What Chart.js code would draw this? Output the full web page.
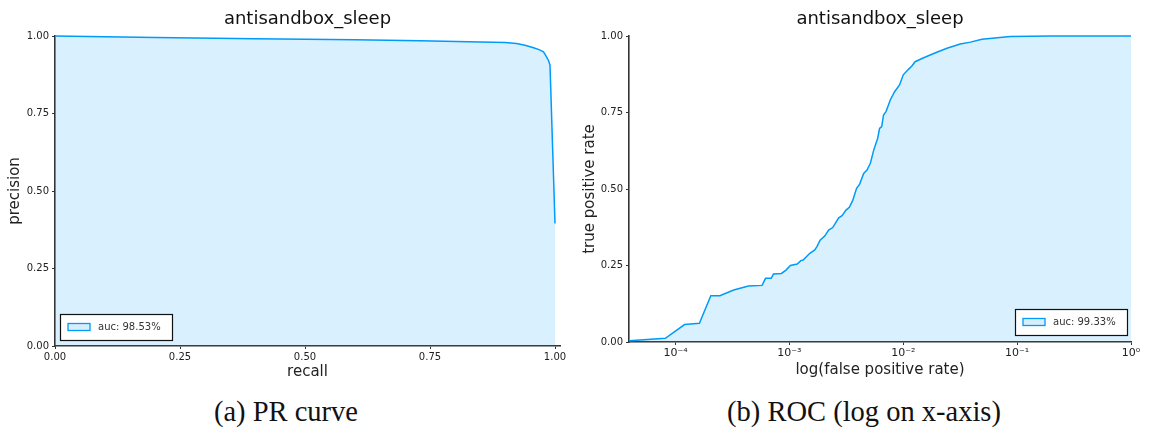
<!DOCTYPE html>
<html>
<head>
<meta charset="utf-8">
<script src="https://cdn.jsdelivr.net/npm/chart.js@4.4.0/dist/chart.umd.min.js"></script>
<style>
  body { margin: 0; background: #fff; width: 1149px; height: 434px; position: relative; overflow: hidden; }
  .panel { position: absolute; top: 0; height: 390px; }
  #pr-wrap { left: 0; width: 575px; }
  #roc-wrap { left: 575px; width: 574px; }
  .caption {
    position: absolute; top: 395px; font-family: "Liberation Serif", serif; font-size: 28.5px;
    color: #111; white-space: nowrap; transform: translateX(-50%); line-height: 34px;
  }
</style>
</head>
<body>
<div class="panel" id="pr-wrap"><canvas id="pr-chart"></canvas></div>
<div class="panel" id="roc-wrap"><canvas id="roc-chart"></canvas></div>
<div class="caption" style="left:286px">(a) PR curve</div>
<div class="caption" style="left:864px">(b) ROC (log on x-axis)</div>

<script>
// PR curve (recall -> precision)
const prRecall = [0, 0.2, 0.4, 0.6, 0.73, 0.85, 0.9, 0.923, 0.94, 0.957, 0.968, 0.977, 0.983, 0.987, 0.99, 1.0];
const prPrecision = [1.0, 0.995, 0.991, 0.988, 0.985, 0.981, 0.979, 0.976, 0.970, 0.962, 0.956, 0.949, 0.933, 0.921, 0.906, 0.395];
const prTicks = [0, 0.25, 0.5, 0.75, 1.0];
const prTickLabels = ["0.00", "0.25", "0.50", "0.75", "1.00"];

// ROC curve (false positive rate -> true positive rate)
const rocFpr = [
  3.9e-5, 8.13e-5, 1.20e-4, 1.62e-4, 2.04e-4, 2.45e-4, 3.24e-4, 4.37e-4, 5.75e-4, 6.17e-4,
  6.92e-4, 7.24e-4, 8.51e-4, 9.33e-4, 1.02e-3, 1.17e-3, 1.26e-3, 1.32e-3, 1.51e-3, 1.66e-3,
  1.74e-3, 1.86e-3, 2.04e-3, 2.21e-3, 2.40e-3, 2.71e-3, 2.90e-3, 3.14e-3, 3.36e-3, 3.59e-3,
  3.89e-3, 4.14e-3, 4.49e-3, 4.80e-3, 5.14e-3, 5.50e-3, 5.96e-3, 6.19e-3, 6.46e-3, 6.71e-3,
  7.05e-3, 7.69e-3, 8.39e-3, 9.27e-3, 1.00e-2, 1.11e-2, 1.19e-2, 1.27e-2, 1.51e-2, 1.97e-2,
  2.42e-2, 3.16e-2, 3.89e-2, 4.90e-2, 8.71e-2, 0.200, 1.0
];
const rocTpr = [
  0.004, 0.012, 0.057, 0.061, 0.151, 0.151, 0.170, 0.183, 0.185, 0.208,
  0.208, 0.222, 0.224, 0.235, 0.250, 0.255, 0.266, 0.268, 0.290, 0.300,
  0.311, 0.333, 0.346, 0.366, 0.374, 0.406, 0.413, 0.431, 0.440, 0.462,
  0.502, 0.516, 0.551, 0.562, 0.584, 0.627, 0.666, 0.698, 0.704, 0.742,
  0.753, 0.791, 0.818, 0.840, 0.873, 0.891, 0.902, 0.916, 0.929, 0.947,
  0.960, 0.974, 0.980, 0.989, 0.998, 1.000, 1.000
];
const rocTicks = [1e-4, 1e-3, 1e-2, 1e-1, 1];
const rocTickLabels = ["10\u207B\u2074", "10\u207B\u00B3", "10\u207B\u00B2", "10\u207B\u00B9", "10\u2070"];
const tprTicks = [0, 0.25, 0.5, 0.75, 1.0];
const tprTickLabels = ["0.00", "0.25", "0.50", "0.75", "1.00"];

const chartTitle = "antisandbox_sleep";
const prLegend = "auc: 98.53%";
const rocLegend = "auc: 99.33%";

const lineBlue = "#009AFA";
const fillBlue = "rgba(0, 154, 250, 0.15)";
const axisColor = "#333";

Chart.defaults.font.family = "'DejaVu Sans', sans-serif";
Chart.defaults.color = "#222";

// title over the plot area + boxed legend inside it
const panelDecor = {
  id: "panelDecor",
  afterDraw(chart, args, opts) {
    const { ctx, chartArea } = chart;
    ctx.save();
    ctx.font = "18px 'DejaVu Sans'";
    ctx.fillStyle = "#111";
    ctx.textAlign = "center";
    ctx.textBaseline = "middle";
    ctx.fillText(opts.title, (chartArea.left + chartArea.right) / 2, 19);

    const ds = chart.data.datasets[0];
    const bw = 112, bh = 26;
    const bx = opts.corner === "left" ? chartArea.left + 5 : chartArea.right - 116;
    const by = opts.corner === "left" ? chartArea.bottom - 32 : chartArea.bottom - 33;
    ctx.fillStyle = "#fff";
    ctx.fillRect(bx, by, bw, bh);
    ctx.strokeStyle = "#111";
    ctx.lineWidth = 1.2;
    ctx.strokeRect(bx + 0.5, by + 0.5, bw, bh);
    ctx.fillStyle = "#d9eefd";
    ctx.fillRect(bx + 8, by + 9.5, 22, 7);
    ctx.strokeStyle = ds.borderColor;
    ctx.lineWidth = 1.3;
    ctx.strokeRect(bx + 8, by + 9.5, 22, 7);
    ctx.fillStyle = "#333";
    ctx.font = "10px 'DejaVu Sans'";
    ctx.textAlign = "left";
    ctx.fillText(ds.label, bx + 38, by + 13.5);
    ctx.restore();
  }
};

function axisBase(extra) {
  return Object.assign({
    grid: { display: true, drawOnChartArea: false, tickLength: 3, color: axisColor },
    border: { color: axisColor, width: 1.6 },
  }, extra);
}

function lineSet(label, xs, ys) {
  return {
    label: label,
    data: xs.map((x, i) => ({ x: x, y: ys[i] })),
    borderColor: lineBlue,
    backgroundColor: fillBlue,
    borderWidth: 1.5,
    pointRadius: 0,
    tension: 0,
    fill: "origin",
    clip: false,
  };
}

new Chart(document.getElementById("pr-chart"), {
  type: "line",
  data: { datasets: [lineSet(prLegend, prRecall, prPrecision)] },
  options: {
    responsive: true,
    maintainAspectRatio: false,
    animation: false,
    events: [],
    layout: { padding: { left: 0, right: 15, top: 36, bottom: 0 } },
    plugins: {
      legend: { display: false },
      tooltip: { enabled: false },
      panelDecor: { title: chartTitle, corner: "left" },
    },
    scales: {
      x: axisBase({
        type: "linear",
        min: 0,
        max: 1.01,
        afterBuildTicks: (s) => { s.ticks = prTicks.map((v) => ({ value: v })); },
        ticks: {
          callback: (v) => prTickLabels[prTicks.indexOf(v)],
          font: { size: 10 }, padding: 2, maxRotation: 0, autoSkip: false,
        },
        title: { display: true, text: "recall", font: { size: 15 }, color: "#222", padding: { top: 0, bottom: 9 } },
        afterFit: (s) => { s.height = 44; },
      }),
      y: axisBase({
        type: "linear",
        min: 0,
        max: 1,
        afterBuildTicks: (s) => { s.ticks = prTicks.map((v) => ({ value: v })); },
        ticks: {
          callback: (v) => prTickLabels[prTicks.indexOf(v)],
          font: { size: 10 }, padding: 3, autoSkip: false,
        },
        title: { display: true, text: "precision", font: { size: 15 }, color: "#222", padding: { top: 6, bottom: 0 } },
        afterFit: (s) => { s.width = 55; },
      }),
    },
  },
  plugins: [panelDecor],
});

new Chart(document.getElementById("roc-chart"), {
  type: "line",
  data: { datasets: [lineSet(rocLegend, rocFpr, rocTpr)] },
  options: {
    responsive: true,
    maintainAspectRatio: false,
    animation: false,
    events: [],
    layout: { padding: { left: 0, right: 18, top: 36, bottom: 0 } },
    plugins: {
      legend: { display: false },
      tooltip: { enabled: false },
      panelDecor: { title: chartTitle, corner: "right" },
    },
    scales: {
      x: axisBase({
        type: "logarithmic",
        min: 3.9e-5,
        max: 1,
        afterBuildTicks: (s) => { s.ticks = rocTicks.map((v) => ({ value: v })); },
        ticks: {
          callback: (v) => rocTickLabels[rocTicks.indexOf(v)],
          font: { size: 11 }, padding: 2, maxRotation: 0, autoSkip: false,
        },
        title: { display: true, text: "log(false positive rate)", font: { size: 15 }, color: "#222", padding: { top: 0, bottom: 11 } },
        afterFit: (s) => { s.height = 48; },
      }),
      y: axisBase({
        type: "linear",
        min: 0,
        max: 1,
        afterBuildTicks: (s) => { s.ticks = tprTicks.map((v) => ({ value: v })); },
        ticks: {
          callback: (v) => tprTickLabels[tprTicks.indexOf(v)],
          font: { size: 10 }, padding: 3, autoSkip: false,
        },
        title: { display: true, text: "true positive rate", font: { size: 15 }, color: "#222", padding: { top: 6, bottom: 0 } },
        afterFit: (s) => { s.width = 54; },
      }),
    },
  },
  plugins: [panelDecor],
});
</script>
</body>
</html>
